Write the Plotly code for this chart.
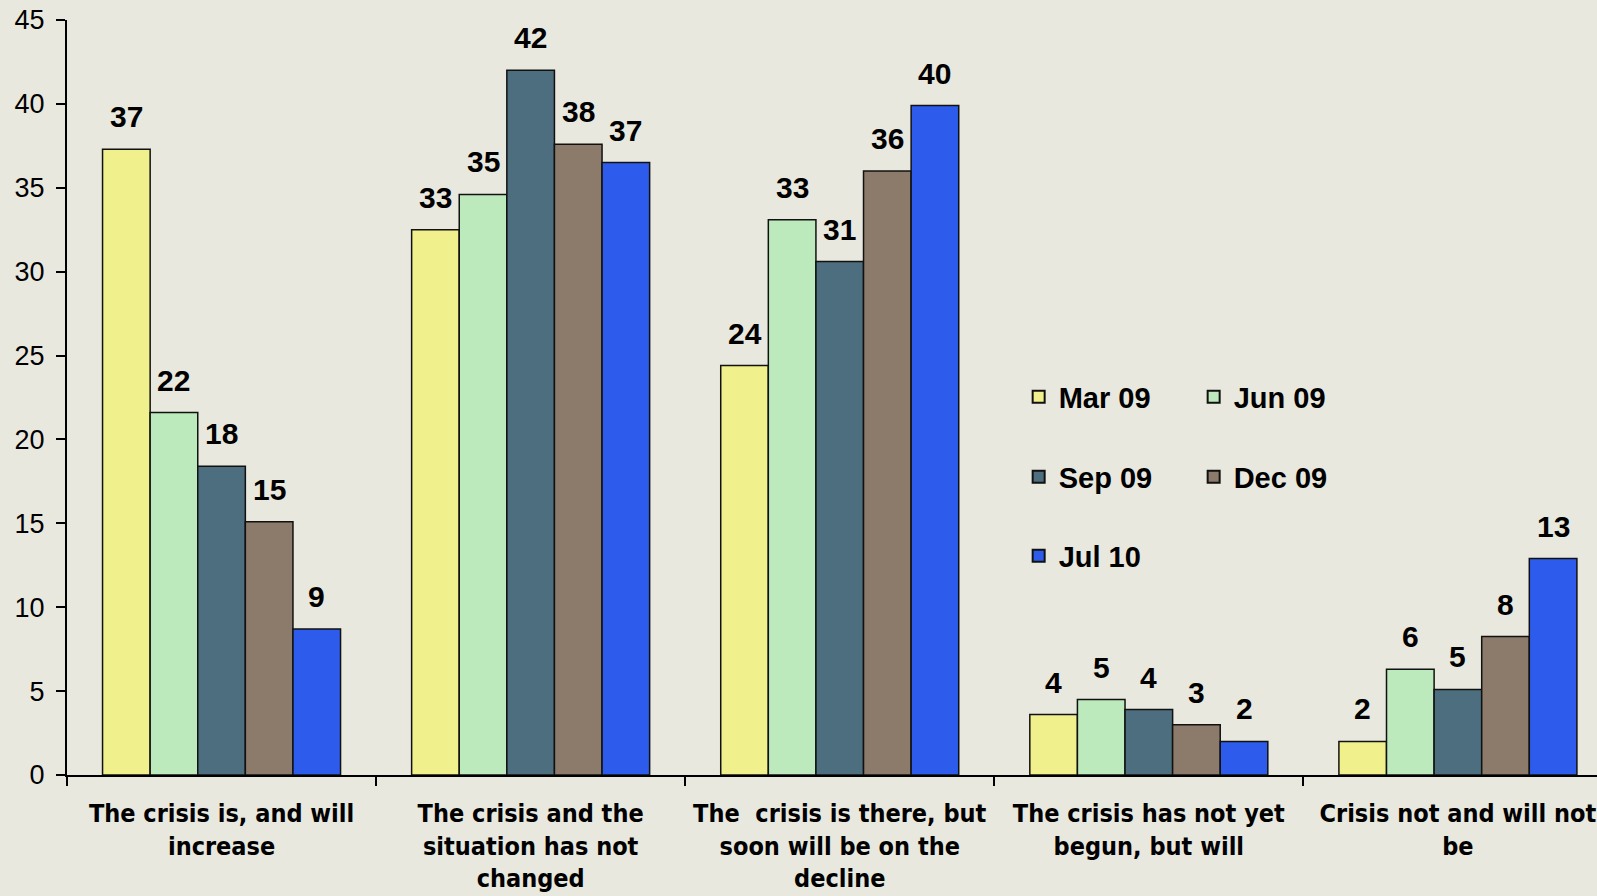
import math
import plotly.graph_objects as go

categories = [
    "The crisis is, and will<br>increase",
    "The crisis and the<br>situation has not<br>changed",
    "The  crisis is there, but<br>soon will be on the<br>decline",
    "The crisis has not yet<br>begun, but will",
    "Crisis not and will not<br>be",
]
series_names = ["Mar 09", "Jun 09", "Sep 09", "Dec 09", "Jul 10"]
mar09 = [37.3, 32.5, 24.4, 3.6, 2.0]
jun09 = [21.6, 34.6, 33.1, 4.5, 6.3]
sep09 = [18.4, 42.0, 30.6, 3.9, 5.1]
dec09 = [15.1, 37.6, 36.0, 3.0, 8.25]
jul10 = [8.7, 36.5, 39.9, 2.0, 12.9]
series_values = [mar09, jun09, sep09, dec09, jul10]
colors = ["#F0F08C", "#BDEABD", "#4C6E7E", "#8C7A6A", "#2D5CEC"]
legend_ids = ["legend", "legend", "legend2", "legend2", "legend3"]

BG = "#E8E8DE"
BARGAP = 0.23

fig = go.Figure()
for name, vals, col, lg in zip(series_names, series_values, colors, legend_ids):
    fig.add_trace(go.Bar(
        x=categories, y=vals, name=name, legend=lg,
        marker=dict(color=col, line=dict(color="#111111", width=1.5)),
        hoverinfo="skip",
    ))

# value labels above bars (rounded half up)
n = len(series_names)
bw = (1 - BARGAP) / n
annotations = []
for j, vals in enumerate(series_values):
    for i, v in enumerate(vals):
        annotations.append(dict(
            x=i + (j - (n - 1) / 2) * bw, y=v, xref="x", yref="y",
            text=str(math.floor(v + 0.5)), showarrow=False, yanchor="bottom", yshift=14,
            font=dict(family="Liberation Sans, Arial", size=30, color="#000000", weight="bold"),
        ))

legend_common = dict(
    orientation="h", xanchor="left", yanchor="middle",
    font=dict(family="Liberation Sans, Arial", size=29, color="#000000", weight="bold"),
    bgcolor="rgba(0,0,0,0)", borderwidth=0, entrywidth=130, itemsizing="constant",
)

fig.update_layout(
    width=1597, height=896,
    margin=dict(l=67, r=0, t=20, b=121, pad=0),
    paper_bgcolor=BG, plot_bgcolor=BG,
    barmode="group", bargap=BARGAP, bargroupgap=0,
    showlegend=True,
    legend=dict(x=0.622, y=1 - (397 - 20) / 755, **legend_common),
    legend2=dict(x=0.622, y=1 - (477 - 20) / 755, **legend_common),
    legend3=dict(x=0.622, y=1 - (556 - 20) / 755, **legend_common),
    annotations=annotations,
    xaxis=dict(
        type="category", range=[-0.5, 4.45],
        showline=True, linecolor="#000000", linewidth=2,
        ticks="outside", tickson="boundaries", ticklen=9, tickwidth=2, tickcolor="#000000",
        tickfont=dict(family="DejaVu Sans Condensed, DejaVu Sans", size=25, color="#000000", weight="bold"),
        ticklabelstandoff=15, showgrid=False, zeroline=False,
    ),
    yaxis=dict(
        range=[0, 45], tickvals=list(range(0, 46, 5)),
        showline=True, linecolor="#000000", linewidth=2,
        ticks="outside", ticklen=9, tickwidth=2, tickcolor="#000000",
        tickfont=dict(family="Liberation Sans, Arial", size=27, color="#000000"),
        ticklabelstandoff=6, showgrid=False, zeroline=False,
    ),
)

fig.write_html("out.html")
